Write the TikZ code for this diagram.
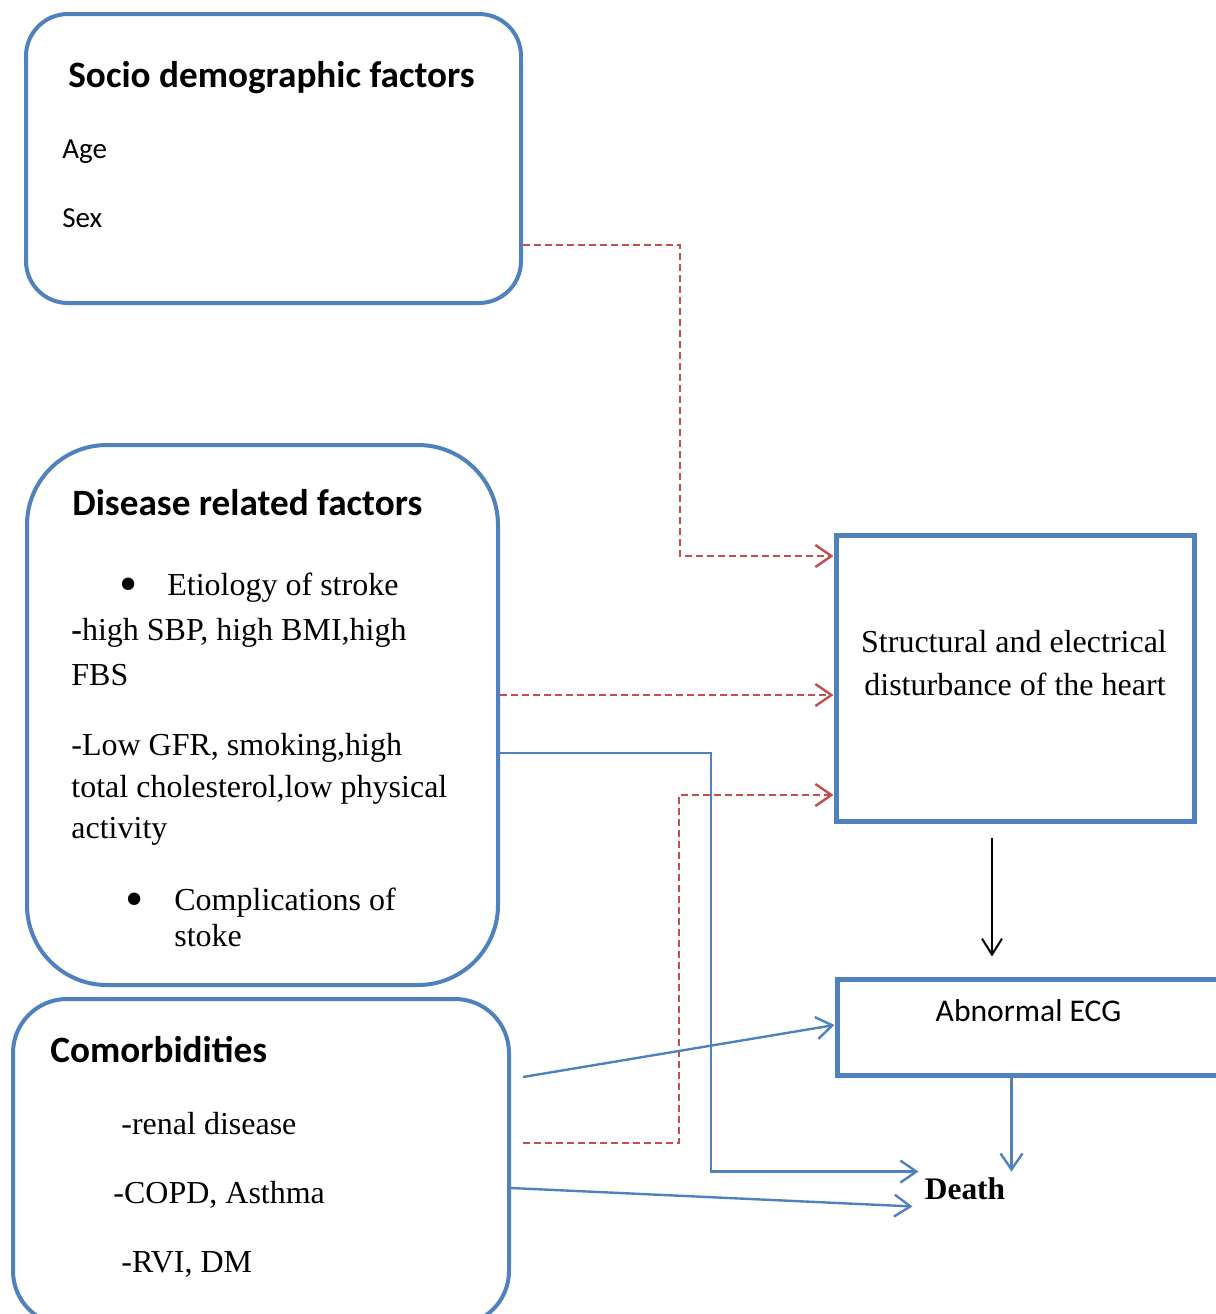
\documentclass[tikz,border=0pt]{standalone}
\usepackage{fontspec}
\setmainfont{Liberation Serif}
\newfontfamily\calibri{Carlito}
\usepackage{xcolor}
\usetikzlibrary{arrows.meta,positioning,calc}

\definecolor{boxblue}{HTML}{4F81BD}
\definecolor{dashred}{HTML}{C0504D}

\newcommand{\bigbullet}[1]{\makebox[#1][l]{\fontsize{26}{19}\selectfont
  \raisebox{-3pt}{\textbullet}}}

\begin{document}
\begin{tikzpicture}[
    x=0.5pt, y=-0.5pt,
    roundbox/.style={draw=boxblue, line width=2pt, inner sep=0pt},
    sqbox/.style={draw=boxblue, line width=2.5pt, inner sep=0pt},
    head/.style={anchor=base west, inner sep=0pt,
      font=\calibri\bfseries\fontsize{18.6}{22}\selectfont},
    sans/.style={anchor=base west, inner sep=0pt,
      font=\calibri\fontsize{14.5}{17}\selectfont},
    body/.style={anchor=base west, inner sep=0pt,
      font=\fontsize{16}{19}\selectfont},
    tip/.style={-{Straight Barb[length=8pt, width=11pt]}},
    dasharr/.style={tip, draw=dashred, line width=1.2pt,
      dash pattern=on 3.5pt off 2pt},
    bluearr/.style={tip, draw=boxblue, line width=1.2pt},
    blackarr/.style={-{Straight Barb[length=8pt, width=10pt]}, line width=1pt},
  ]
    \useasboundingbox (0,0) rectangle (1216,1314);

    \node[roundbox, rounded corners=21pt, minimum width=247.5pt,
      minimum height=144.5pt] (socio) at (273.5,158.5) {};
    \node[head] (sociohead) at (68,87) {Socio demographic factors};
    \node[sans] (age) at (62,158) {Age};
    \node[sans] (sex) at (62,227) {Sex};

    \node[roundbox, rounded corners=40pt, minimum width=235.5pt,
      minimum height=270pt] (disease) at (262.5,715) {};
    \node[head] (diseasehead) at (72,515) {Disease related factors};
    \node[body] (etio) at (119,595) {\bigbullet{24pt}Etiology of stroke};
    \node[body] (sbp) at (71,640) {\textbf{-}high SBP, high BMI,high};
    \node[body] (fbs) at (71,685) {FBS};
    \node[body] (gfr) at (71,755) {-Low GFR, smoking,high};
    \node[body] (chol) at (71,797) {total cholesterol,low physical};
    \node[body] (activ) at (71,838) {activity};
    \node[body] (compl) at (125,910) {\bigbullet{24.5pt}Complications of};
    \node[body] (stoke) at (174,946) {stoke};

    \node[roundbox, rounded corners=27pt, minimum width=248pt,
      minimum height=163pt] (como) at (261,1162) {};
    \node[head] (comohead) at (50,1062) {Comorbidities};
    \node[body] (renal) at (121,1134) {-renal disease};
    \node[body] (copd) at (113,1203) {-COPD, Asthma};
    \node[body] (rvi) at (121,1272) {-RVI, DM};

    \node[sqbox, minimum width=179pt, minimum height=143pt] (heart)
      at (1015,678) {};
    \node[body, anchor=base] (heart1) at (1014,652)
      {Structural and electrical};
    \node[body, anchor=base] (heart2) at (1015,695)
      {disturbance of the heart};

    \node[sqbox, minimum width=201.5pt, minimum height=48pt] (ecg)
      at (1038.5,1027) {};
    \node[anchor=base, inner sep=0pt,
      font=\calibri\fontsize{15.8}{19}\selectfont] (ecgtext) at (1028.5,1021)
      {Abnormal ECG};

    \node[inner sep=3pt, font=\bfseries\fontsize{15.7}{19}\selectfont]
      (death) at (965,1189) {Death};

    \draw[dasharr] (socio.east |- 0,245) -| (680,556)
      -- (heart.west |- 0,556);
    \draw[dasharr] (disease.east |- 0,695) -- (heart.west |- 0,695);
    \draw[dasharr] ([xshift=6pt]como.east |- 0,1143) -| (679,795)
      -- (heart.west |- 0,795);

    \draw[bluearr] (disease.east |- 0,753) -| (death.north west -| 711,0)
      -- (death.north west);
    \draw[bluearr] ([xshift=6pt]como.east |- 0,1077) -- (ecg.west |- 0,1025);
    \draw[bluearr] (como.east |- 0,1188) -- ([xshift=-3pt]death.south west);
    \draw[bluearr] (ecg.south -| death.north east) -- (death.north east);

    \draw[blackarr] ([yshift=-7pt]heart.south -| 992,0)
      -- ([yshift=10pt]ecg.north -| 992,0);
  \end{tikzpicture}
\end{document}
